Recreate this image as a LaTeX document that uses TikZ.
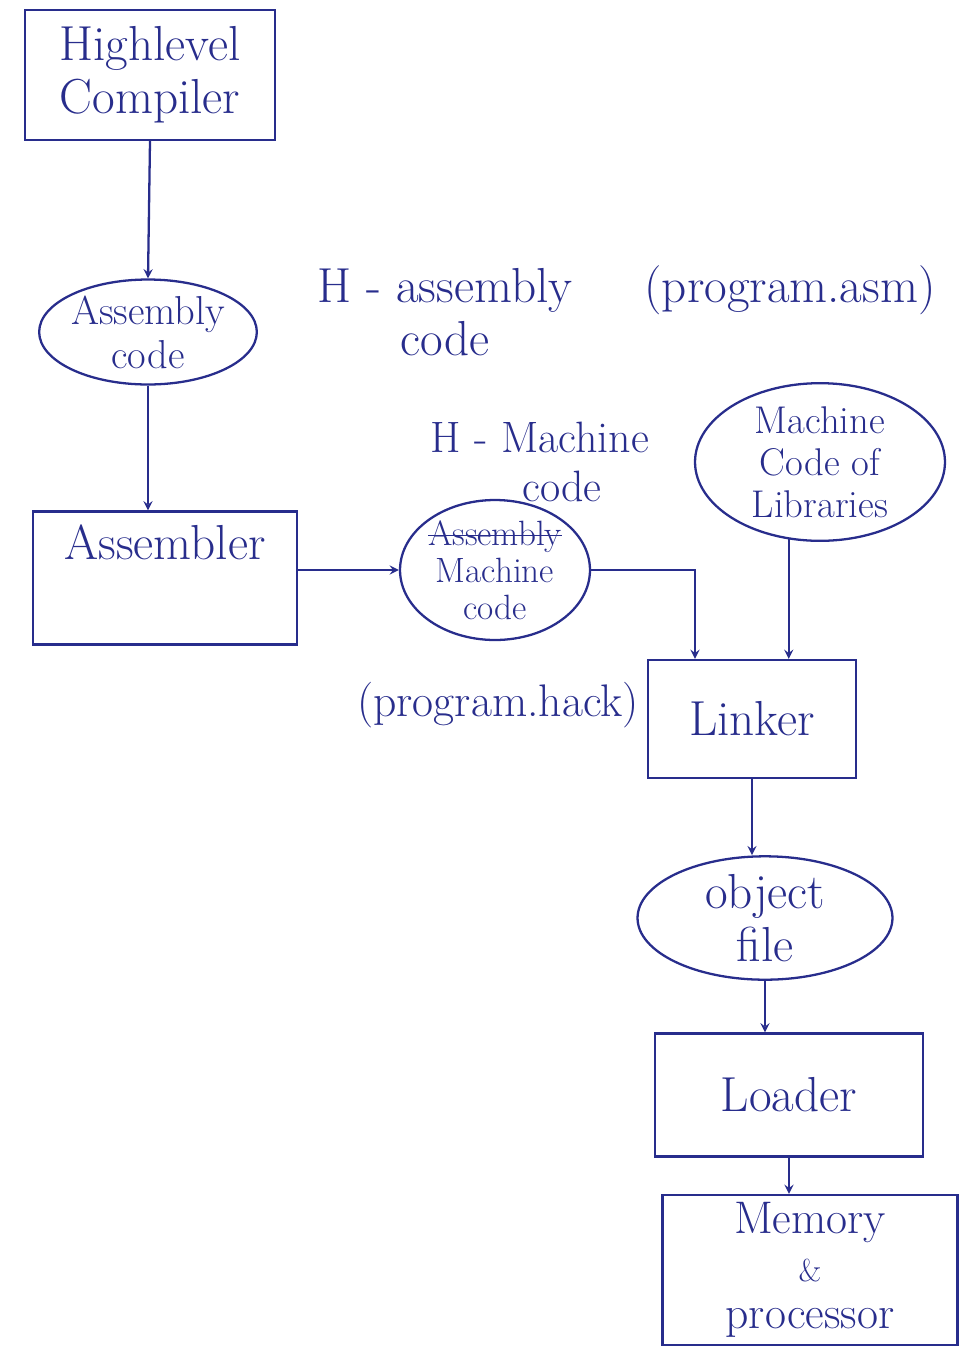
\documentclass[tikz,border=0pt]{standalone}
\usetikzlibrary{positioning, shapes.geometric}
\definecolor{ink}{RGB}{40,45,140}
\newcommand{\struckword}[1]{\leavevmode\setbox0\hbox{#1}\rlap{\rule[0.6ex]{\wd0}{1pt}}\box0}

\begin{document}
\begin{tikzpicture}[x=0.02cm, y=-0.02cm, >=stealth, line width=1.3pt, draw=ink,
    every node/.style={align=center, text=ink, font=\fontsize{28}{30}\selectfont},
    stage/.style={draw=ink, line width=1.3pt},
    file/.style={draw=ink, line width=1.3pt, ellipse, inner sep=0pt}]
    \useasboundingbox (0,0) rectangle (980,1353);

    % compiler and assembly
    \node (hlc) [stage, minimum width=5cm, minimum height=2.6cm] at (150,75) {Highlevel\\Compiler};
    \node (asm) [file, minimum width=4.1cm, minimum height=2.1cm, font=\fontsize{23}{25}\selectfont] at (148,332) {Assembly\\code};
    \node (asm_note) at (445,312) {H - assembly\\code};
    \node (asm_file) at (790,290) {(program.asm)};

    % assembler and machine code
    \node (asmb) [stage, minimum width=5.28cm, minimum height=2.66cm,
        label={[anchor=north, yshift=-0.15cm, font=\fontsize{28}{30}\selectfont]north:Assembler}] at (165,578) {};
    \node (mach) [file, minimum width=3.8cm, minimum height=2.8cm, font=\fontsize{20}{21}\selectfont] at (495,570) {\struckword{Assembly}\\Machine\\code};
    \node (mach_note) [font=\fontsize{25}{28}\selectfont] at (540,462) {H - Machine\\\quad code};
    \node (lib) [file, minimum width=5cm, minimum height=3.1cm, font=\fontsize{22}{24}\selectfont] at (820,462) {Machine\\Code of\\Libraries};

    % linker, loader, memory
    \node (lnk) [stage, minimum width=4.16cm, minimum height=2.36cm] at (752,719) {Linker};
    \node (lnk_file) [font=\fontsize{26}{28}\selectfont] at (498,705) {(program.hack)};
    \node (obj) [file, minimum width=5.1cm, minimum height=2.26cm] at (765,918) {object\\file};
    \node (ldr) [stage, minimum width=5.36cm, minimum height=2.46cm] at (789,1095) {Loader};
    \node (mem) [stage, minimum width=5.9cm, minimum height=3cm, inner sep=2pt, font=\fontsize{26}{27}\selectfont] at (810,1270) {Memory\\{\fontsize{18}{18}\selectfont\&}\\processor};

    \draw[->] (hlc.south) -- (asm.north);
    \draw[->] (asm.south) -- (asm.south |- asmb.north);
    \draw[->] (asmb.east |- mach.west) -- (mach.west);
    \draw[->] (mach.east) -| ([xshift=-1.14cm]lnk.north);
    \draw[->] (lib.-112) -- (lib.-112 |- lnk.north);
    \draw[->] (lnk.south) -- (lnk.south |- obj.north);
    \draw[->] (obj.south) -- (obj.south |- ldr.north);
    \draw[->] (ldr.south) -- (ldr.south |- mem.north);
\end{tikzpicture}
\end{document}
